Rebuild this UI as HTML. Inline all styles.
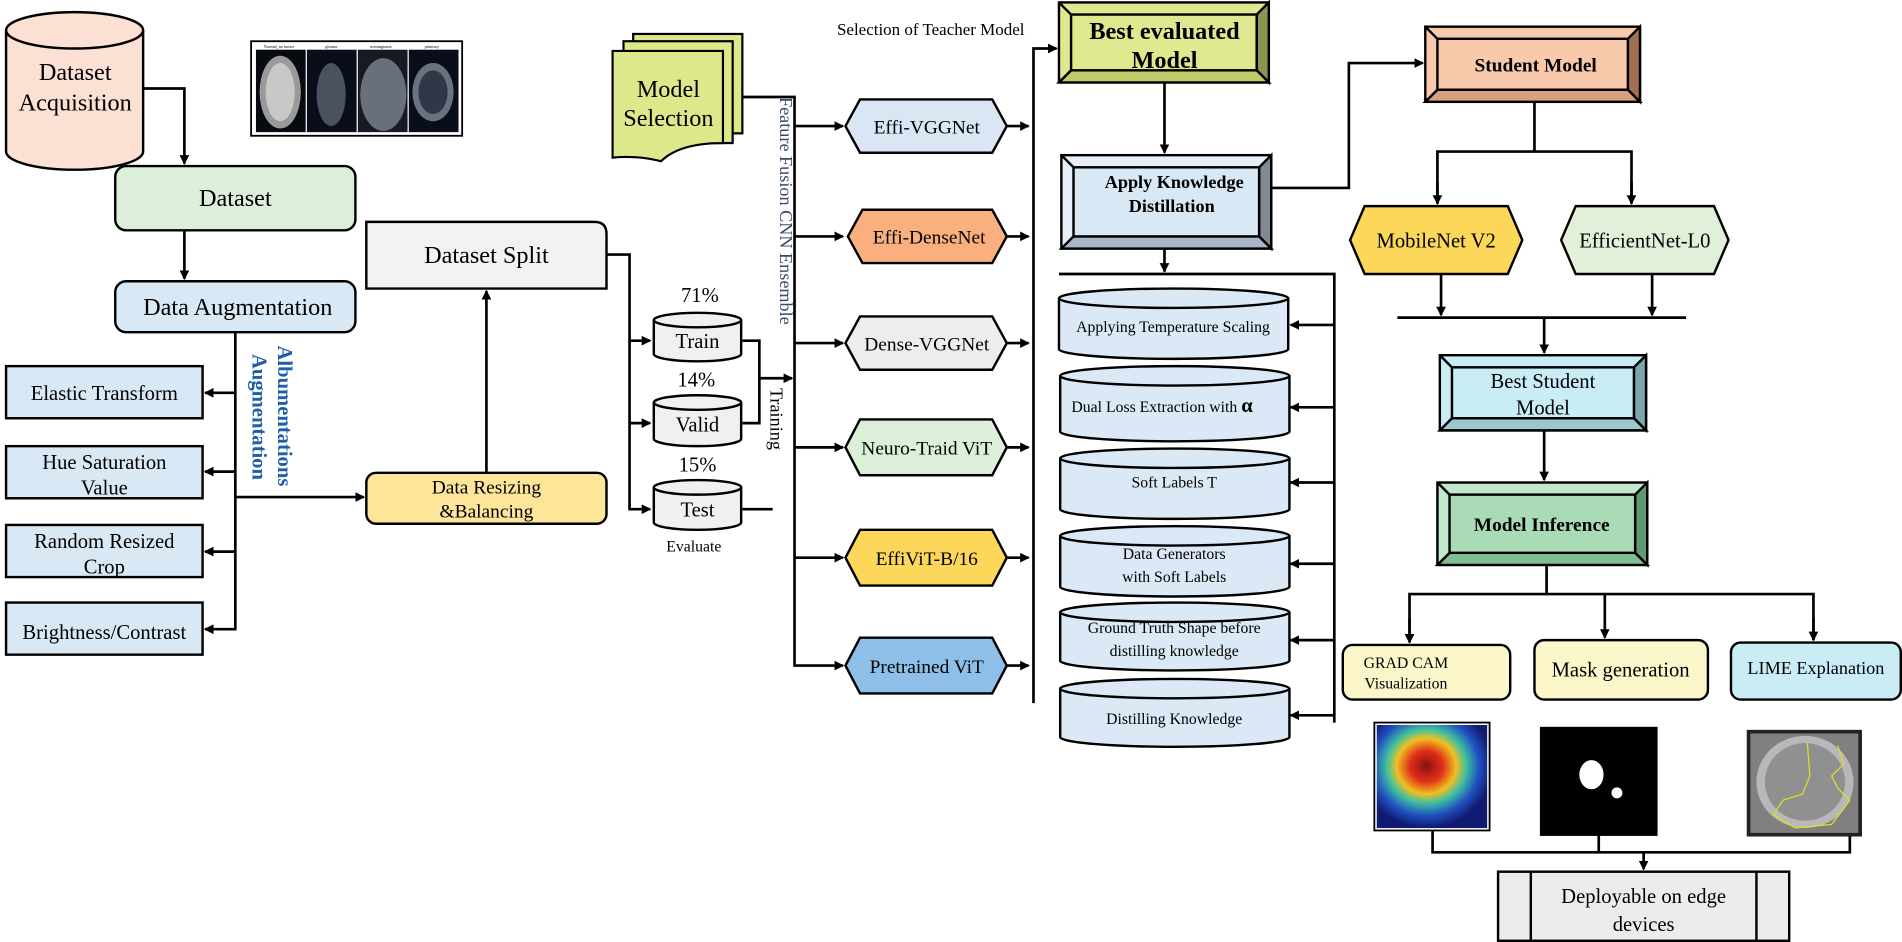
<!DOCTYPE html>
<html><head><meta charset="utf-8"><style>
html,body{margin:0;padding:0;background:#fff;}
svg{display:block;}
text{font-family:"Liberation Serif",serif;fill:#000;}
</style></head><body>
<svg width="1902" height="942" viewBox="0 0 1568 777" preserveAspectRatio="none" xmlns="http://www.w3.org/2000/svg">
<defs>
<marker id="a" markerWidth="8" markerHeight="8" refX="7" refY="4" orient="auto" markerUnits="userSpaceOnUse"><path d="M0,0 L8,4 L0,8 Z" fill="#000"/></marker>
<radialGradient id="gc" cx="0.45" cy="0.4" r="0.6"><stop offset="0" stop-color="#8b1010"/><stop offset="0.25" stop-color="#e0301a"/><stop offset="0.45" stop-color="#f0c020"/><stop offset="0.6" stop-color="#40c0a0"/><stop offset="0.8" stop-color="#2050c0"/><stop offset="1" stop-color="#101a70"/></radialGradient>
</defs>
<g stroke="#000" stroke-width="2.2" fill="none">
<!-- left flow -->
<polyline points="118,73 152,73 152,135" marker-end="url(#a)"/>
<line x1="152" y1="190" x2="152" y2="230" marker-end="url(#a)"/>
<line x1="194" y1="274" x2="194" y2="520"/>
<line x1="194" y1="324" x2="169" y2="324" marker-end="url(#a)"/>
<line x1="194" y1="389" x2="169" y2="389" marker-end="url(#a)"/>
<line x1="194" y1="455" x2="169" y2="455" marker-end="url(#a)"/>
<line x1="194" y1="519" x2="169" y2="519" marker-end="url(#a)"/>
<line x1="194" y1="410" x2="300" y2="410" marker-end="url(#a)"/>
<line x1="401" y1="390" x2="401" y2="240" marker-end="url(#a)"/>
<polyline points="500,210 519,210 519,420 536,420" marker-end="url(#a)"/>
<line x1="519" y1="281" x2="536" y2="281" marker-end="url(#a)"/>
<line x1="519" y1="349" x2="536" y2="349" marker-end="url(#a)"/>
<polyline points="612,281 626,281 626,349 612,349"/>
<line x1="626" y1="312" x2="653" y2="312" marker-end="url(#a)"/>
<line x1="612" y1="420" x2="637" y2="420"/>
<polyline points="612,80 655,80 655,550"/>
<line x1="655" y1="104" x2="695" y2="104" marker-end="url(#a)"/>
<line x1="655" y1="195" x2="695" y2="195" marker-end="url(#a)"/>
<line x1="655" y1="283" x2="695" y2="283" marker-end="url(#a)"/>
<line x1="655" y1="369" x2="695" y2="369" marker-end="url(#a)"/>
<line x1="655" y1="460" x2="695" y2="460" marker-end="url(#a)"/>
<line x1="655" y1="549" x2="695" y2="549" marker-end="url(#a)"/>
<line x1="830" y1="104" x2="848" y2="104" marker-end="url(#a)"/>
<line x1="830" y1="195" x2="848" y2="195" marker-end="url(#a)"/>
<line x1="830" y1="283" x2="848" y2="283" marker-end="url(#a)"/>
<line x1="830" y1="369" x2="848" y2="369" marker-end="url(#a)"/>
<line x1="830" y1="460" x2="848" y2="460" marker-end="url(#a)"/>
<line x1="830" y1="549" x2="848" y2="549" marker-end="url(#a)"/>
<polyline points="852,580 852,40 871,40" marker-end="url(#a)"/>
<line x1="960" y1="68" x2="960" y2="126" marker-end="url(#a)"/>
<line x1="960" y1="205" x2="960" y2="224" marker-end="url(#a)"/>
<polyline points="873,226 1100,226 1100,596"/>
<line x1="1100" y1="268" x2="1064" y2="268" marker-end="url(#a)"/>
<line x1="1100" y1="336" x2="1064" y2="336" marker-end="url(#a)"/>
<line x1="1100" y1="398" x2="1064" y2="398" marker-end="url(#a)"/>
<line x1="1100" y1="465" x2="1064" y2="465" marker-end="url(#a)"/>
<line x1="1100" y1="528" x2="1064" y2="528" marker-end="url(#a)"/>
<line x1="1100" y1="590" x2="1064" y2="590" marker-end="url(#a)"/>
<polyline points="1048,155 1112,155 1112,52 1173,52" marker-end="url(#a)"/>
<line x1="1265" y1="84" x2="1265" y2="125"/>
<polyline points="1185,168 1185,125 1345,125 1345,168" />
<line x1="1185" y1="150" x2="1185" y2="168" marker-end="url(#a)"/>
<line x1="1345" y1="150" x2="1345" y2="168" marker-end="url(#a)"/>
<line x1="1188" y1="226" x2="1188" y2="260" marker-end="url(#a)"/>
<line x1="1362" y1="226" x2="1362" y2="260" marker-end="url(#a)"/>
<line x1="1152" y1="262" x2="1390" y2="262"/>
<line x1="1273" y1="262" x2="1273" y2="291" marker-end="url(#a)"/>
<line x1="1273" y1="355" x2="1273" y2="396" marker-end="url(#a)"/>
<line x1="1275" y1="466" x2="1275" y2="490"/>
<polyline points="1162,528 1162,490 1495,490 1495,528"/>
<line x1="1162" y1="510" x2="1162" y2="530" marker-end="url(#a)"/>
<line x1="1323" y1="490" x2="1323" y2="526" marker-end="url(#a)"/>
<line x1="1495" y1="510" x2="1495" y2="528" marker-end="url(#a)"/>
<polyline points="1181,685 1181,703 1525,703 1525,690"/>
<line x1="1318" y1="689" x2="1318" y2="703"/>
<line x1="1355" y1="703" x2="1355" y2="717" marker-end="url(#a)"/>
</g>

<!-- Dataset Acquisition cylinder -->
<g stroke="#000" stroke-width="2">
<path d="M5,25 L5,125 A56.5,15 0 0 0 118,125 L118,25" fill="#fbe0d3"/>
<ellipse cx="61.5" cy="25" rx="56.5" ry="15" fill="#fbe0d3"/>
</g>
<text x="62" y="66" font-size="20" text-anchor="middle">Dataset</text>
<text x="62" y="91" font-size="20" text-anchor="middle">Acquisition</text>

<!-- brain strip -->
<rect x="207" y="34" width="174" height="78" fill="#fff" stroke="#000" stroke-width="1.5"/>
<g font-size="3.5" text-anchor="middle"><text x="230" y="39.5">Normal_no tumor</text><text x="273" y="39.5">glioma</text><text x="314" y="39.5">meningioma</text><text x="356" y="39.5">pituitary</text></g>
<rect x="211" y="41" width="41" height="68" fill="#080a12"/>
<rect x="253" y="41" width="41" height="68" fill="#0a0d1a"/>
<rect x="295" y="41" width="41" height="68" fill="#151a24"/>
<rect x="337" y="41" width="41" height="68" fill="#0a0d1a"/>
<ellipse cx="231" cy="76" rx="17" ry="30" fill="#9a9a9a"/>
<ellipse cx="231" cy="76" rx="12" ry="24" fill="#c8c8c8"/>
<ellipse cx="273" cy="78" rx="12" ry="26" fill="#4a5260"/>
<ellipse cx="316" cy="78" rx="19" ry="30" fill="#6a707a"/>
<ellipse cx="357" cy="76" rx="17" ry="24" fill="#6a7280"/>
<ellipse cx="357" cy="76" rx="12" ry="18" fill="#303848"/>

<!-- Model Selection doc stack -->
<g stroke="#000" stroke-width="1.8" fill="#dde88a">
<rect x="522" y="28" width="90" height="82"/>
<rect x="514" y="34" width="90" height="84"/>
<path d="M505,42 L596,42 L596,118 Q560,118 545,133 Q525,128 505,130 Z"/>
</g>
<text x="551" y="80" font-size="20" text-anchor="middle">Model</text>
<text x="551" y="104" font-size="20" text-anchor="middle">Selection</text>

<!-- Dataset / Aug -->
<rect x="95" y="137" width="198" height="53" rx="9" fill="#dcefd9" stroke="#000" stroke-width="2"/>
<text x="194" y="170" font-size="20" text-anchor="middle">Dataset</text>
<rect x="95" y="232" width="198" height="42" rx="9" fill="#d9e8f5" stroke="#000" stroke-width="2"/>
<text x="196" y="260" font-size="20" text-anchor="middle">Data Augmentation</text>

<g stroke="#000" stroke-width="2" fill="#d9e8f5">
<rect x="5" y="302" width="162" height="43"/>
<rect x="5" y="368" width="162" height="43"/>
<rect x="5" y="433" width="162" height="43"/>
<rect x="5" y="497" width="162" height="43"/>
</g>
<g font-size="17" text-anchor="middle">
<text x="86" y="330">Elastic Transform</text>
<text x="86" y="387">Hue Saturation</text><text x="86" y="408">Value</text>
<text x="86" y="452">Random Resized</text><text x="86" y="473">Crop</text>
<text x="86" y="527">Brightness/Contrast</text>
</g>
<g font-size="17" fill="#1f5fa8" font-weight="bold">
<text transform="translate(229,285) rotate(90)" style="fill:#1f5fa8">Albumentations</text>
<text transform="translate(208,292) rotate(90)" style="fill:#1f5fa8">Augmentation</text>
</g>

<rect x="302" y="390" width="198" height="42" rx="8" fill="#fde59a" stroke="#000" stroke-width="2"/>
<text x="401" y="407" font-size="16" text-anchor="middle">Data Resizing</text>
<text x="401" y="427" font-size="16" text-anchor="middle">&amp;Balancing</text>
<path d="M302,183 L490,183 Q500,183 500,193 L500,238 L302,238 Z" fill="#f2f2f2" stroke="#000" stroke-width="2"/>
<text x="401" y="217" font-size="20" text-anchor="middle">Dataset Split</text>

<!-- split cylinders -->
<g stroke="#000" stroke-width="2" fill="#f0f0f0">
<path d="M539,264 L539,292 A36,6 0 0 0 611,292 L611,264"/><ellipse cx="575" cy="264" rx="36" ry="6"/>
<path d="M539,332 L539,362 A36,6 0 0 0 611,362 L611,332"/><ellipse cx="575" cy="332" rx="36" ry="6"/>
<path d="M539,402 L539,431 A36,6 0 0 0 611,431 L611,402"/><ellipse cx="575" cy="402" rx="36" ry="6"/>
</g>
<g font-size="17" text-anchor="middle">
<text x="577" y="249">71%</text><text x="575" y="287">Train</text>
<text x="574" y="319">14%</text><text x="575" y="356">Valid</text>
<text x="575" y="389">15%</text><text x="575" y="426">Test</text>
<text x="572" y="455" font-size="13">Evaluate</text>
</g>
<text transform="translate(635,320) rotate(90)" font-size="15">Training</text>
<text transform="translate(643,80) rotate(90)" font-size="15" style="fill:#3a4a6a">Feature Fusion CNN Ensemble</text>

<!-- hexagons -->
<g stroke="#000" stroke-width="2">
<polygon points="697,104 709,82 818,82 830,104 818,126 709,126" fill="#dae6f4"/>
<polygon points="699,195 711,173 818,173 830,195 818,217 711,217" fill="#f9b07e"/>
<polygon points="697,283 709,261 818,261 830,283 818,305 709,305" fill="#ededed"/>
<polygon points="697,369 709,346 818,346 830,369 818,392 709,392" fill="#dcefd9"/>
<polygon points="697,460 709,437 818,437 830,460 818,483 709,483" fill="#fdd75a"/>
<polygon points="697,549 709,526 818,526 830,549 818,572 709,572" fill="#8dbfe8"/>
</g>
<g font-size="16" text-anchor="middle">
<text x="764" y="110">Effi-VGGNet</text>
<text x="766" y="201">Effi-DenseNet</text>
<text x="764" y="289">Dense-VGGNet</text>
<text x="764" y="375">Neuro-Traid ViT</text>
<text x="764" y="466">EffiViT-B/16</text>
<text x="764" y="555">Pretrained ViT</text>
</g>
<text x="690" y="29" font-size="14">Selection of Teacher Model</text>

<!-- bevel boxes -->
<g stroke="#000" stroke-width="2">
<rect x="873" y="2" width="173" height="66" fill="#dfe88f"/>
<polygon points="1036,12 1046,2 1046,68 1036,58" fill="#8a9550"/>
<polygon points="883,58 1036,58 1046,68 873,68" fill="#c0cb6a"/>
<rect x="883" y="12" width="153" height="46" fill="#dfe88f"/>
<line x1="873" y1="2" x2="883" y2="12"/><line x1="873" y1="68" x2="883" y2="58"/>

<rect x="875" y="128" width="173" height="77" fill="#e6eff8"/>
<polygon points="1038,138 1048,128 1048,205 1038,195" fill="#7f8a96"/>
<polygon points="885,195 1038,195 1048,205 875,205" fill="#a9b6c4"/>
<rect x="885" y="138" width="153" height="57" fill="#d9e8f5"/>
<line x1="875" y1="128" x2="885" y2="138"/>

<rect x="1175" y="22" width="177" height="62" fill="#f9c9ac"/>
<polygon points="1342,32 1352,22 1352,84 1342,74" fill="#a07050"/>
<polygon points="1185,74 1342,74 1352,84 1175,84" fill="#d8a080"/>
<rect x="1185" y="32" width="157" height="42" fill="#f9c9ac"/>
<line x1="1175" y1="22" x2="1185" y2="32"/>

<rect x="1187" y="293" width="170" height="62" fill="#c9ecf5"/>
<polygon points="1347,303 1357,293 1357,355 1347,345" fill="#7aa6b0"/>
<polygon points="1197,345 1347,345 1357,355 1187,355" fill="#9cc8d2"/>
<rect x="1197" y="303" width="150" height="42" fill="#c9ecf5"/>
<line x1="1187" y1="293" x2="1197" y2="303"/>

<rect x="1185" y="398" width="173" height="68" fill="#c2e7cc"/>
<polygon points="1348,408 1358,398 1358,466 1348,456" fill="#5f9a70"/>
<polygon points="1195,456 1348,456 1358,466 1185,466" fill="#82be94"/>
<rect x="1195" y="408" width="153" height="48" fill="#a9dbb7"/>
<line x1="1185" y1="398" x2="1195" y2="408"/>
</g>
<text x="960" y="32" font-size="20" font-weight="bold" text-anchor="middle">Best evaluated</text>
<text x="960" y="56" font-size="20" font-weight="bold" text-anchor="middle">Model</text>
<text x="968" y="155" font-size="15" font-weight="bold" text-anchor="middle">Apply Knowledge</text>
<text x="966" y="175" font-size="15" font-weight="bold" text-anchor="middle">Distillation</text>
<text x="1266" y="59" font-size="16" font-weight="bold" text-anchor="middle">Student Model</text>
<text x="1272" y="320" font-size="17" text-anchor="middle">Best Student</text>
<text x="1272" y="342" font-size="17" text-anchor="middle">Model</text>
<text x="1271" y="438" font-size="16" font-weight="bold" text-anchor="middle">Model Inference</text>

<!-- distillation cylinders -->
<g stroke="#000" stroke-width="2" fill="#dbe8f5">
<path d="M873,246 L873,288 A94.5,8 0 0 0 1062,288 L1062,246"/><ellipse cx="967.5" cy="246" rx="94.5" ry="8"/>
<path d="M874,310 L874,356 A94.5,8 0 0 0 1063,356 L1063,310"/><ellipse cx="968.5" cy="310" rx="94.5" ry="8"/>
<path d="M874,378 L874,420 A94.5,8 0 0 0 1063,420 L1063,378"/><ellipse cx="968.5" cy="378" rx="94.5" ry="8"/>
<path d="M874,442 L874,484 A94.5,8 0 0 0 1063,484 L1063,442"/><ellipse cx="968.5" cy="442" rx="94.5" ry="8"/>
<path d="M874,505 L874,545 A94.5,8 0 0 0 1063,545 L1063,505"/><ellipse cx="968.5" cy="505" rx="94.5" ry="8"/>
<path d="M874,568 L874,608 A94.5,8 0 0 0 1063,608 L1063,568"/><ellipse cx="968.5" cy="568" rx="94.5" ry="8"/>
</g>
<g font-size="13" text-anchor="middle">
<text x="967" y="274">Applying Temperature Scaling</text>
<text x="958" y="340">Dual Loss Extraction with <tspan font-size="17" font-weight="bold">α</tspan></text>
<text x="968" y="402">Soft Labels T</text>
<text x="968" y="461">Data Generators</text>
<text x="968" y="480">with Soft Labels</text>
<text x="968" y="522">Ground Truth Shape before</text>
<text x="968" y="541">distilling knowledge</text>
<text x="968" y="597">Distilling Knowledge</text>
</g>

<!-- student hexes -->
<g stroke="#000" stroke-width="2">
<polygon points="1113,198 1125,170 1243,170 1255,198 1243,226 1125,226" fill="#fdd75a"/>
<polygon points="1287,198 1299,170 1413,170 1425,198 1413,226 1299,226" fill="#e2f0da"/>
</g>
<text x="1184" y="204" font-size="17" text-anchor="middle">MobileNet V2</text>
<text x="1356" y="204" font-size="17" text-anchor="middle">EfficientNet-L0</text>

<!-- explanation boxes -->
<g stroke="#000" stroke-width="2">
<rect x="1107" y="532" width="138" height="45" rx="8" fill="#fcf6cb"/>
<rect x="1265" y="528" width="143" height="49" rx="8" fill="#fcf6cb"/>
<rect x="1427" y="530" width="140" height="47" rx="8" fill="#c9ecf5"/>
</g>
<text x="1159" y="551" font-size="13" text-anchor="middle">GRAD CAM</text>
<text x="1159" y="568" font-size="13" text-anchor="middle">Visualization</text>
<text x="1336" y="558" font-size="17" text-anchor="middle">Mask generation</text>
<text x="1497" y="556" font-size="15" text-anchor="middle">LIME Explanation</text>

<!-- images -->
<rect x="1133" y="596" width="95" height="89" fill="#fff" stroke="#000" stroke-width="1.5"/>
<rect x="1135" y="598" width="91" height="85" fill="url(#gc)"/>
<rect x="1270" y="600" width="96" height="89" fill="#000" stroke="#000"/>
<ellipse cx="1312" cy="639" rx="10" ry="12" fill="#fff"/>
<circle cx="1333" cy="654" r="4.5" fill="#fff"/>
<rect x="1440" y="602" width="95" height="88" fill="#222"/>
<rect x="1443" y="605" width="89" height="82" fill="#808080"/>
<ellipse cx="1488" cy="645" rx="40" ry="38" fill="#b8b8b8"/>
<ellipse cx="1488" cy="645" rx="33" ry="32" fill="#909090"/>
<path d="M1490,613 L1492,640 L1486,655 L1470,660 L1462,672 L1480,683 L1510,680 L1525,660 L1515,650 L1510,640 L1520,630 L1515,615" fill="none" stroke="#e0e020" stroke-width="1"/>

<!-- deployable -->
<g stroke="#000" stroke-width="2">
<rect x="1235" y="719" width="240" height="57" fill="#ececec"/>
<line x1="1262" y1="719" x2="1262" y2="776"/>
<line x1="1448" y1="719" x2="1448" y2="776"/>
</g>
<text x="1355" y="745" font-size="17" text-anchor="middle">Deployable on edge</text>
<text x="1355" y="768" font-size="17" text-anchor="middle">devices</text>
</svg>
</body></html>
